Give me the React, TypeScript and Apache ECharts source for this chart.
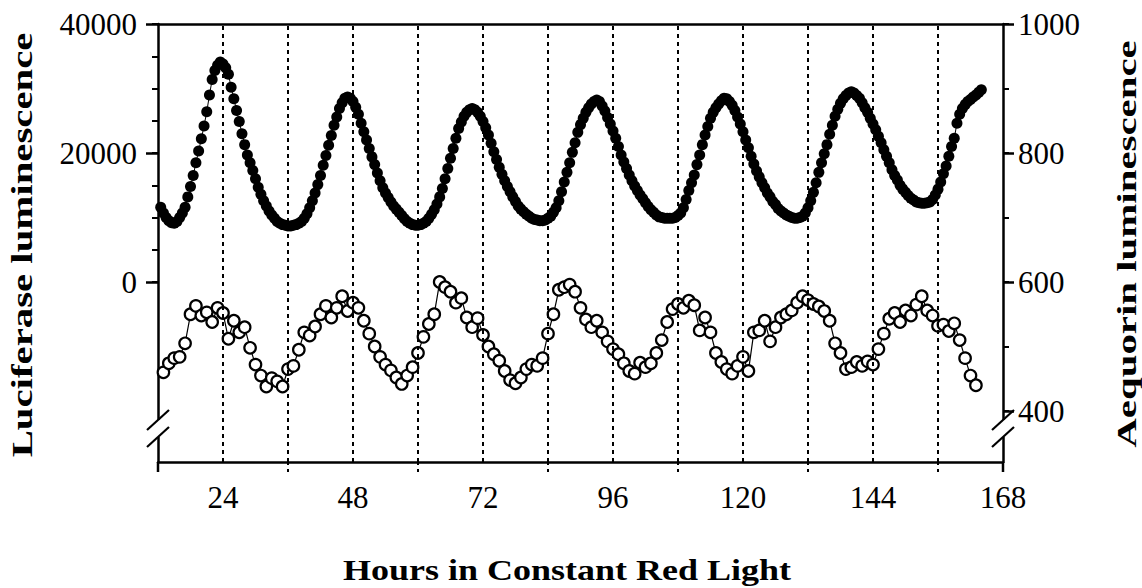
import React, { useEffect, useRef } from "react";
import * as echarts from "echarts";

// ---- data ----
// Luciferase luminescence (thousands of counts), one sample every 0.5 h starting at 12.5 h
const LUC_START = 12.5;
const LUC_STEP = 0.5;
const luciferaseK = [
  11.6, 10.7, 10.0, 9.5, 9.2, 9.1, 9.4, 10.0, 10.7, 11.6, 13.2, 14.8,
  16.5, 18.5, 20.3, 22.2, 24.2, 26.4, 29.0, 31.4, 32.8, 33.6, 34.1, 33.8,
  33.2, 32.2, 30.2, 28.4, 26.6, 24.9, 23.0, 21.3, 19.7, 18.5, 17.3, 16.0,
  14.7, 13.6, 12.6, 11.8, 11.0, 10.4, 9.9, 9.4, 9.1, 8.9, 8.8, 8.7,
  8.7, 8.8, 8.9, 9.1, 9.4, 9.9, 10.6, 11.5, 12.6, 13.8, 15.1, 16.5,
  18.1, 19.6, 21.2, 22.7, 24.3, 25.6, 26.9, 27.8, 28.5, 28.7, 28.5, 28.0,
  27.1, 26.0, 24.6, 23.3, 22.0, 20.7, 19.4, 18.2, 16.9, 15.7, 14.6, 13.8,
  13.1, 12.4, 11.8, 11.3, 10.8, 10.3, 9.8, 9.4, 9.1, 8.9, 8.8, 8.8,
  8.9, 9.1, 9.4, 9.9, 10.5, 11.2, 12.1, 13.2, 14.5, 16.0, 17.6, 19.2,
  20.7, 22.3, 23.8, 24.8, 25.7, 26.3, 26.7, 26.9, 26.7, 26.3, 25.7, 24.9,
  23.9, 22.8, 21.5, 20.2, 19.0, 17.8, 16.7, 15.7, 14.8, 14.0, 13.2, 12.5,
  11.8, 11.3, 10.9, 10.5, 10.2, 9.9, 9.7, 9.6, 9.5, 9.5, 9.6, 9.9,
  10.2, 10.8, 11.5, 12.6, 14.0, 15.5, 17.0, 18.5, 20.1, 21.6, 23.2, 24.4,
  25.4, 26.3, 27.0, 27.6, 28.0, 28.2, 28.0, 27.3, 26.5, 25.5, 24.5, 23.4,
  22.3, 21.0, 19.7, 18.6, 17.6, 16.6, 15.7, 14.9, 14.2, 13.5, 12.9, 12.3,
  11.7, 11.2, 10.8, 10.4, 10.1, 10.0, 9.9, 9.9, 9.9, 9.9, 10.0, 10.3,
  10.7, 11.5, 12.8, 14.2, 15.4, 16.6, 18.2, 19.7, 21.3, 22.8, 24.1, 25.4,
  26.3, 27.0, 27.6, 28.1, 28.5, 28.4, 28.0, 27.4, 26.6, 25.6, 24.5, 23.3,
  22.0, 20.8, 19.5, 18.3, 17.2, 16.3, 15.4, 14.6, 13.8, 13.2, 12.5, 12.0,
  11.4, 11.0, 10.7, 10.4, 10.2, 10.0, 9.9, 9.9, 10.0, 10.2, 10.7, 11.5,
  12.6, 13.9, 15.4, 17.0, 18.5, 19.9, 21.3, 22.9, 24.3, 25.7, 26.8, 27.7,
  28.4, 28.9, 29.3, 29.5, 29.3, 28.9, 28.5, 27.8, 27.0, 26.3, 25.4, 24.5,
  23.6, 22.6, 21.6, 20.5, 19.5, 18.5, 17.4, 16.5, 15.8, 15.0, 14.4, 13.9,
  13.4, 13.0, 12.7, 12.4, 12.3, 12.2, 12.2, 12.3, 12.4, 12.8, 13.5, 14.4,
  15.5, 16.8, 18.0, 19.5, 21.0, 22.3, 24.6, 26.0, 26.9, 27.5, 28.0, 28.3,
  28.7, 29.0, 29.4, 29.8,
];

// Aequorin luminescence, one sample every hour starting at 13 h
const AEQ_START = 13;
const AEQ_STEP = 1;
const aequorin = [
  460, 474, 482, 484, 505, 550, 563, 548, 553, 538, 560, 552,
  512, 540, 522, 530, 498, 472, 455, 438, 451, 446, 438, 465,
  470, 495, 522, 517, 531, 550, 563, 545, 560, 578, 555, 568,
  560, 540, 520, 500, 484, 472, 463, 452, 442, 455, 468, 490,
  515, 535, 550, 600, 592, 585, 568, 575, 545, 530, 544, 518,
  500, 488, 478, 462, 448, 443, 452, 465, 472, 470, 482, 520,
  550, 588, 592, 596, 585, 560, 542, 530, 540, 522, 508, 496,
  488, 474, 462, 458, 475, 468, 474, 490, 510, 538, 558, 566,
  560, 571, 564, 525, 545, 522, 490, 476, 465, 458, 470, 484,
  462, 522, 525, 540, 508, 530, 545, 550, 556, 568, 578, 572,
  566, 562, 555, 540, 505, 490, 465, 468, 476, 470, 477, 472,
  496, 520, 543, 552, 538, 556, 548, 565, 578, 556, 548, 532,
  534, 524, 536, 510, 482, 455, 440,
];

// Dotted vertical guide lines (hours)
const dottedHours = [24, 36, 48, 60, 72, 84, 96, 108, 120, 132, 144, 156];
const dottedBelowAxis = [36, 60, 84, 108, 132, 156];

// Axis ticks / labels
const xLabels = [24, 48, 72, 96, 120, 144, 168];
const lucLabels = [0, 20000, 40000];
const lucMinorTicks = [0, 5000, 10000, 15000, 20000, 25000, 30000, 35000, 40000];
const aeqLabels = [400, 600, 800, 1000];
const aeqMinorTicks = [400, 500, 600, 700, 800, 900, 1000];

const X_MIN = 12;
const X_MAX = 168;
const LUC_MIN = -27900;
const LUC_MAX = 40000;
const AEQ_MIN = 321;
const AEQ_MAX = 1000;

const FONT = '"Liberation Serif", "Times New Roman", serif';

export default function App() {
  const ref = useRef<HTMLDivElement>(null);

  useEffect(() => {
    if (!ref.current) return;
    const chart = echarts.init(ref.current, null, { renderer: "svg" });

    const lucData = luciferaseK.map((v, i) => [LUC_START + i * LUC_STEP, v * 1000]);
    const aeqData = aequorin.map((v, i) => [AEQ_START + i * AEQ_STEP, v]);

    const black = "#000";
    const axisLine = { show: true, onZero: false, lineStyle: { color: black, width: 2.5 } };
    const plain = (v: number) => String(v);

    chart.setOption({
      animation: false,
      backgroundColor: "#fff",
      grid: { left: 158, right: 139, top: 24, bottom: 126, containLabel: false },
      xAxis: [
        {
          type: "value",
          min: X_MIN,
          max: X_MAX,
          position: "bottom",
          axisLine,
          axisTick: {
            show: true,
            customValues: dottedBelowAxis,
            length: 10,
            lineStyle: { color: black, width: 2, type: [3, 4] },
          },
          axisLabel: {
            customValues: xLabels,
            formatter: plain,
            color: black,
            fontFamily: FONT,
            fontSize: 31,
            margin: 20,
          },
          splitLine: { show: false },
        },
        {
          type: "value",
          min: X_MIN,
          max: X_MAX,
          position: "top",
          axisLine,
          axisTick: { show: false },
          axisLabel: { show: false },
          splitLine: { show: false },
        },
      ],
      yAxis: [
        {
          type: "value",
          position: "left",
          min: LUC_MIN,
          max: LUC_MAX,
          axisLine,
          axisTick: {
            show: true,
            customValues: lucMinorTicks,
            length: 6,
            lineStyle: { color: black, width: 2 },
          },
          axisLabel: {
            customValues: lucLabels,
            formatter: plain,
            color: black,
            fontFamily: FONT,
            fontSize: 31,
            margin: 21,
          },
          splitLine: { show: false },
        },
        {
          type: "value",
          position: "right",
          min: AEQ_MIN,
          max: AEQ_MAX,
          axisLine,
          axisTick: {
            show: true,
            customValues: aeqMinorTicks,
            length: 6,
            lineStyle: { color: black, width: 2 },
          },
          axisLabel: {
            customValues: aeqLabels,
            formatter: plain,
            color: black,
            fontFamily: FONT,
            fontSize: 31,
            margin: 15,
          },
          splitLine: { show: false },
        },
        {
          type: "value",
          position: "left",
          min: LUC_MIN,
          max: LUC_MAX,
          axisLine: { show: false, onZero: false },
          axisTick: {
            show: true,
            customValues: lucLabels,
            length: 12,
            lineStyle: { color: black, width: 2.5 },
          },
          axisLabel: { show: false },
          splitLine: { show: false },
        },
        {
          type: "value",
          position: "right",
          min: AEQ_MIN,
          max: AEQ_MAX,
          axisLine: { show: false, onZero: false },
          axisTick: {
            show: true,
            customValues: aeqLabels,
            length: 11,
            lineStyle: { color: black, width: 2.5 },
          },
          axisLabel: { show: false },
          splitLine: { show: false },
        },
      ],
      series: [
        {
          name: "guides",
          type: "line",
          xAxisIndex: 0,
          yAxisIndex: 0,
          data: [],
          z: 1,
          silent: true,
          markLine: {
            symbol: "none",
            silent: true,
            label: { show: false },
            lineStyle: { color: black, width: 2, type: [4, 4] },
            data: dottedHours.map((h) => ({ xAxis: h })),
          },
        },
        {
          name: "Luciferase",
          type: "line",
          xAxisIndex: 0,
          yAxisIndex: 0,
          data: lucData,
          symbol: "circle",
          symbolSize: 11,
          showSymbol: true,
          itemStyle: { color: black },
          lineStyle: { color: black, width: 1 },
          z: 3,
        },
        {
          name: "Aequorin",
          type: "line",
          xAxisIndex: 0,
          yAxisIndex: 1,
          data: aeqData,
          symbol: "circle",
          symbolSize: 11.5,
          showSymbol: true,
          itemStyle: { color: "#fff", borderColor: black, borderWidth: 2.2 },
          lineStyle: { color: black, width: 1.2 },
          z: 3,
        },
      ],
    });

    // axis extensions, break marks and titles
    const xl = chart.convertToPixel({ xAxisIndex: 0 }, X_MIN) as number;
    const xr = chart.convertToPixel({ xAxisIndex: 0 }, X_MAX) as number;
    const yb = chart.convertToPixel({ yAxisIndex: 0 }, LUC_MIN) as number;
    const upper = yb - 42;
    const lower = yb - 25;
    const breakMarks = (ax: number) => [
      {
        type: "line",
        shape: { x1: ax, y1: yb, x2: ax, y2: yb + 10 },
        style: { stroke: black, lineWidth: 2.5 },
        z: 10,
      },
      {
        type: "rect",
        shape: { x: ax - 3, y: upper, width: 6, height: lower - upper },
        style: { fill: "#fff" },
        z: 10,
      },
      {
        type: "line",
        shape: { x1: ax - 11, y1: upper + 10, x2: ax + 11, y2: upper - 10 },
        style: { stroke: black, lineWidth: 2.2 },
        z: 11,
      },
      {
        type: "line",
        shape: { x1: ax - 11, y1: lower + 10, x2: ax + 11, y2: lower - 10 },
        style: { stroke: black, lineWidth: 2.2 },
        z: 11,
      },
    ];

    const titleStyle = (text: string, size: number) => ({
      text,
      fill: black,
      fontFamily: FONT,
      fontWeight: "bold",
      fontSize: size,
      align: "center",
      verticalAlign: "middle",
      textAlign: "center",
      textVerticalAlign: "middle",
    });

    chart.setOption({
      graphic: [
        ...breakMarks(xl),
        ...breakMarks(xr),
        {
          type: "text",
          x: 22,
          y: 245,
          rotation: Math.PI / 2,
          scaleX: 1.36,
          style: titleStyle("Luciferase luminescence", 30),
          z: 12,
        },
        {
          type: "text",
          x: 1127,
          y: 244,
          rotation: Math.PI / 2,
          scaleX: 1.46,
          style: titleStyle("Aequorin luminescence", 28),
          z: 12,
        },
        {
          type: "text",
          x: 567,
          y: 570,
          scaleX: 1.2,
          style: titleStyle("Hours in Constant Red Light", 30),
          z: 12,
        },
      ],
    });

    return () => chart.dispose();
  }, []);

  return (
    <div
      ref={ref}
      style={{ position: "absolute", left: 0, top: 0, width: 1142, height: 588, background: "#fff" }}
    />
  );
}
